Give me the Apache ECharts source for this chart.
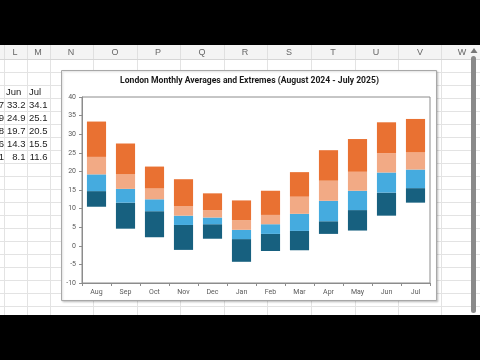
<!DOCTYPE html>
<html><head><meta charset="utf-8">
<script src="https://cdn.jsdelivr.net/npm/echarts@6/dist/echarts.min.js"></script>
<style>
html,body{margin:0;padding:0;width:480px;height:360px;background:#000;overflow:hidden;}
#chart{width:480px;height:360px;}
</style></head>
<body>
<div id="chart"></div>
<script>
// ---- data ----
const months = ['Aug','Sep','Oct','Nov','Dec','Jan','Feb','Mar','Apr','May','Jun','Jul'];
const maxT    = [33.4, 27.5, 21.3, 17.9, 14.1, 12.2, 14.8, 19.8, 25.7, 28.7, 33.2, 34.1];
const avgHigh = [23.9, 19.2, 15.4, 10.7,  9.6,  6.9,  8.3, 13.2, 17.5, 19.9, 24.9, 25.1];
const meanT   = [19.2, 15.3, 12.5,  8.1,  7.6,  4.3,  5.8,  8.6, 12.1, 14.8, 19.7, 20.5];
const avgLow  = [14.7, 11.6,  9.3,  5.6,  5.8,  1.8,  3.2,  4.0,  6.6,  9.6, 14.3, 15.5];
const minT    = [10.5,  4.6,  2.3, -1.1,  1.9, -4.3, -1.4, -1.2,  3.2,  4.1,  8.1, 11.6];
const yTicks = {min:-10, max:40, interval:5};
const colLetters = ['L','M','N','O','P','Q','R','S','T','U','V','W'];
const tableHeads = ['Jun','Jul'];
const mayCol = [28.7, 19.9, 14.8, 9.6, 4.1];
const junCol = [33.2, 24.9, 19.7, 14.3, 8.1];
const julCol = [34.1, 25.1, 20.5, 15.5, 11.6];

// ---- spreadsheet backdrop (decoration) ----
const G = [];
G.push({type:'rect', shape:{x:0,y:0,width:480,height:360}, style:{fill:'#000'}, z:-10});
G.push({type:'rect', shape:{x:0,y:45,width:480,height:270}, style:{fill:'#fff'}, z:-9});
G.push({type:'rect', shape:{x:0,y:45,width:480,height:14}, style:{fill:'#f4f4f4'}, z:-8});
G.push({type:'line', shape:{x1:0,y1:59.5,x2:480,y2:59.5}, style:{stroke:'#d6d6d6',lineWidth:1}, z:-8});
for (let y = 72.5; y < 315; y += 13) {
  G.push({type:'line', shape:{x1:0,y1:y,x2:480,y2:y}, style:{stroke:'#e3e3e3',lineWidth:1}, z:-8});
}
const colLines = [4, 27, 50, 93, 137, 180, 224, 267, 311, 355, 398, 441];
const colCenters = [15, 38, 71, 115, 158, 202, 245, 289, 333, 376, 420, 462];
colLines.forEach(x=>G.push({type:'line', shape:{x1:x+0.5,y1:60,x2:x+0.5,y2:315}, style:{stroke:'#e3e3e3',lineWidth:1}, z:-8}));
colLines.forEach(x=>G.push({type:'line', shape:{x1:x+0.5,y1:45,x2:x+0.5,y2:59}, style:{stroke:'#e0e0e0',lineWidth:1}, z:-8}));
colLetters.forEach((c,i)=>G.push({type:'text', x:colCenters[i], y:53, z:-7,
  style:{text:c, fill:'#666', font:'9px "Liberation Sans", Arial', textAlign:'center', textVerticalAlign:'middle'}}));
const cellFont = '9.5px "Liberation Sans", Arial';
G.push({type:'text', x:6, y:92, z:-7, style:{text:tableHeads[0], fill:'#222', font:cellFont, textAlign:'left', textVerticalAlign:'middle'}});
G.push({type:'text', x:29, y:92, z:-7, style:{text:tableHeads[1], fill:'#222', font:cellFont, textAlign:'left', textVerticalAlign:'middle'}});
for (let i=0;i<5;i++){
  const y = 105 + i*13;
  G.push({type:'text', x:4, y:y, z:-7, style:{text:mayCol[i].toFixed(1), fill:'#222', font:cellFont, textAlign:'right', textVerticalAlign:'middle'}});
  G.push({type:'text', x:25.5, y:y, z:-7, style:{text:junCol[i].toFixed(1), fill:'#222', font:cellFont, textAlign:'right', textVerticalAlign:'middle'}});
  G.push({type:'text', x:47.5, y:y, z:-7, style:{text:julCol[i].toFixed(1), fill:'#222', font:cellFont, textAlign:'right', textVerticalAlign:'middle'}});
}
// scrollbar
G.push({type:'rect', shape:{x:471,y:56,width:5,height:257,r:2.5}, style:{fill:'#8a8a8a'}, z:-7});
G.push({type:'polygon', shape:{points:[[470.5,53],[477.5,53],[474,48]]}, style:{fill:'#777'}, z:-7});
// chart box
G.push({type:'rect', shape:{x:61.5,y:70.5,width:375,height:230}, z:-6,
  style:{fill:'#fff', stroke:'#a8a8a8', lineWidth:1, shadowBlur:2, shadowOffsetX:1, shadowOffsetY:1, shadowColor:'rgba(0,0,0,0.18)'}});
G.push({type:'text', x:249.5, y:81, z:-5,
  style:{text:'London Monthly Averages and Extremes (August 2024 - July 2025)', fill:'#1a1a1a',
    font:'bold 8.6px Roboto', textAlign:'center', textVerticalAlign:'middle'}});

// ---- chart ----
const segDark  = avgLow.map((v,i)=>+(v-minT[i]).toFixed(2));
const segLight = meanT.map((v,i)=>+(v-avgLow[i]).toFixed(2));
const segSalm  = avgHigh.map((v,i)=>+(v-meanT[i]).toFixed(2));
const segOrng  = maxT.map((v,i)=>+(v-avgHigh[i]).toFixed(2));

const chart = echarts.init(document.getElementById('chart'), null, {renderer:'canvas'});
const base = {type:'bar', stack:'t', stackStrategy:'all', barCategoryGap:'34%', emphasis:{disabled:true}, silent:true};
chart.setOption({
  animation:false,
  backgroundColor:'#000',
  graphic:{elements:G},
  grid:{left:82, right:50, top:97, bottom:77, show:true, borderColor:'#8c8c8c', borderWidth:1, backgroundColor:'transparent'},
  xAxis:{type:'category', data:months, boundaryGap:true,
    axisLine:{onZero:false, lineStyle:{color:'#8c8c8c', width:1}},
    axisTick:{show:true, length:3, alignWithLabel:false, lineStyle:{color:'#8c8c8c'}},
    axisLabel:{fontSize:7, color:'#595959', margin:6, fontFamily:'Roboto'}},
  yAxis:{type:'value', min:yTicks.min, max:yTicks.max, interval:yTicks.interval,
    axisLine:{show:true, lineStyle:{color:'#8c8c8c', width:1}},
    axisTick:{show:true, length:3, lineStyle:{color:'#8c8c8c'}},
    splitLine:{show:false},
    axisLabel:{fontSize:7, color:'#595959', margin:6, fontFamily:'Roboto'}},
  series:[
    Object.assign({}, base, {name:'base', data:minT, itemStyle:{color:'rgba(0,0,0,0)'}}),
    Object.assign({}, base, {name:'Min to Avg Low', data:segDark, itemStyle:{color:'#17607f'}}),
    Object.assign({}, base, {name:'Avg Low to Mean', data:segLight, itemStyle:{color:'#45abdf'}}),
    Object.assign({}, base, {name:'Mean to Avg High', data:segSalm, itemStyle:{color:'#f2aa85'}}),
    Object.assign({}, base, {name:'Avg High to Max', data:segOrng, itemStyle:{color:'#e97132'}})
  ]
});
</script>
</body></html>
